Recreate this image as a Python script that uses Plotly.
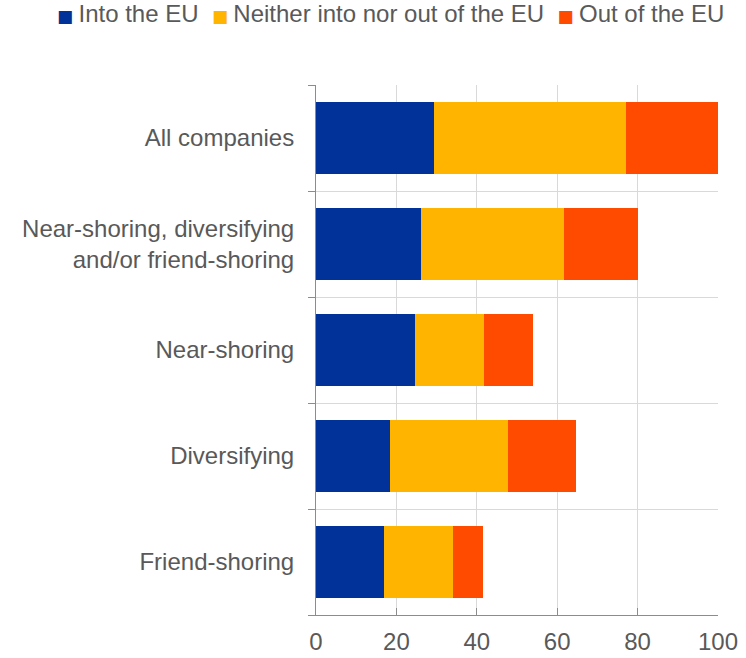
import plotly.graph_objects as go

categories = ["All companies", "Near-shoring, diversifying<br>and/or friend-shoring",
              "Near-shoring", "Diversifying", "Friend-shoring"]
into_eu = [29.4, 26.1, 24.6, 18.5, 16.9]
neither = [47.6, 35.6, 17.1, 29.3, 17.1]
out_eu = [23.0, 18.5, 12.3, 16.9, 7.6]
x_ticks = [0, 20, 40, 60, 80, 100]

series_names = ["Into the EU", "Neither into nor out of the EU", "Out of the EU"]
series_values = [into_eu, neither, out_eu]
series_colors = ["#003299", "#FFB400", "#FF4B00"]

FONT = "Arial, Liberation Sans, sans-serif"
TXT = "#595959"

W, H = 746, 658
ML, MR, MT, MB = 316, 28, 85, 43
PW = W - ML - MR
PH = H - MT - MB

fig = go.Figure()
for name, vals, col in zip(series_names, series_values, series_colors):
    fig.add_trace(go.Bar(y=categories, x=vals, name=name, orientation="h",
                         marker=dict(color=col, line=dict(width=0))))

# legend row drawn as a single text line (tight symbol/text spacing as in the reference)
parts = []
for name, col in zip(series_names, series_colors):
    parts.append('<span style="color:%s;font-family:DejaVu Sans;font-size:17px">■ </span>%s'
                 % (col, name))
legend_text = "&nbsp;&nbsp;".join(parts)

fig.add_annotation(text=legend_text, xref="paper", yref="paper",
                   x=(55 - ML) / PW, y=(PH + MT - 14) / PH,
                   xanchor="left", yanchor="middle", showarrow=False,
                   font=dict(size=24, color=TXT, family=FONT))

fig.update_layout(
    width=W, height=H,
    barmode="stack", bargap=0.33,
    plot_bgcolor="white", paper_bgcolor="white",
    margin=dict(l=ML, r=MR, t=MT, b=MB, autoexpand=False),
    font=dict(family=FONT, size=24, color=TXT),
    showlegend=False,
)
fig.update_xaxes(range=[0, 100], tickvals=x_ticks, showgrid=True,
                 gridcolor="#d9d9d9", gridwidth=1, automargin=False,
                 showline=True, linecolor="#8c8c8c", linewidth=1,
                 ticks="inside", ticklen=7, tickcolor="#8c8c8c",
                 tickfont=dict(size=24, color=TXT), zeroline=False,
                 ticklabelstandoff=5)
fig.update_yaxes(categoryorder="array", categoryarray=categories[::-1],
                 tickson="boundaries", showgrid=True, gridcolor="#d9d9d9",
                 gridwidth=1, showline=True, linecolor="#8c8c8c", linewidth=1,
                 ticks="outside", ticklen=7, tickcolor="#8c8c8c", automargin=False,
                 tickfont=dict(size=24, color=TXT), ticklabelstandoff=16)

fig.write_html("out.html",
               config={"displayModeBar": False},
               post_script="document.body.style.margin='0px';"
                           "document.body.style.overflow='hidden';")
